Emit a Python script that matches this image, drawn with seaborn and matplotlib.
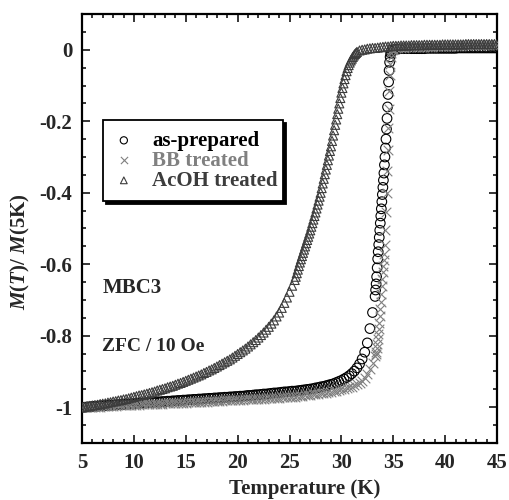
import matplotlib
matplotlib.use("Agg")
import matplotlib.pyplot as plt
import seaborn as sns
import pandas as pd

# Temperature grid (K) for the as-prepared and BB treated sweeps
temperature = [
    5.00, 5.25, 5.50, 5.75, 6.00, 6.25, 6.50, 6.75, 7.00, 7.25,
    7.50, 7.75, 8.00, 8.25, 8.50, 8.75, 9.00, 9.25, 9.50, 9.75,
    10.00, 10.25, 10.50, 10.75, 11.00, 11.25, 11.50, 11.75, 12.00, 12.25,
    12.50, 12.75, 13.00, 13.25, 13.50, 13.75, 14.00, 14.25, 14.50, 14.75,
    15.00, 15.25, 15.50, 15.75, 16.00, 16.25, 16.50, 16.75, 17.00, 17.25,
    17.50, 17.75, 18.00, 18.25, 18.50, 18.75, 19.00, 19.25, 19.50, 19.75,
    20.00, 20.25, 20.50, 20.75, 21.00, 21.25, 21.50, 21.75, 22.00, 22.25,
    22.50, 22.75, 23.00, 23.25, 23.50, 23.75, 24.00, 24.25, 24.50, 24.75,
    25.00, 25.25, 25.50, 25.75, 26.00, 26.25, 26.50, 26.75, 27.00, 27.25,
    27.50, 27.75, 28.00, 28.25, 28.50, 28.75, 29.00, 29.25, 29.50, 29.75,
    30.00, 30.25, 30.50, 30.75, 31.00, 31.25, 31.50, 31.75, 32.00, 32.25,
    32.50, 32.75, 33.00, 33.25,
    33.30, 33.35, 33.40, 33.45, 33.50, 33.55, 33.60, 33.65, 33.70, 33.75,
    33.80, 33.85, 33.90, 33.95, 34.00, 34.05, 34.10, 34.15, 34.20, 34.25,
    34.30, 34.35, 34.40, 34.45, 34.50, 34.55, 34.60, 34.65, 34.70, 34.75,
    34.80, 34.85, 34.90,
    35.00, 35.25, 35.50, 35.75, 36.00,
    36.25, 36.50, 36.75, 37.00, 37.25, 37.50, 37.75, 38.00,
    38.25, 38.50, 38.75, 39.00, 39.25, 39.50, 39.75, 40.00, 40.25, 40.50, 40.75, 41.00,
    41.25, 41.50, 41.75, 42.00, 42.25, 42.50, 42.75, 43.00,
    43.25, 43.50, 43.75, 44.00, 44.25, 44.50, 44.75, 45.00,
]

# Temperature grid (K) for the AcOH treated sweep (finer through its transition)
temperature_acoh = [
    5.00, 5.25, 5.50, 5.75, 6.00, 6.25, 6.50, 6.75, 7.00, 7.25,
    7.50, 7.75, 8.00, 8.25, 8.50, 8.75, 9.00, 9.25, 9.50, 9.75,
    10.00, 10.25, 10.50, 10.75, 11.00, 11.25, 11.50, 11.75, 12.00, 12.25,
    12.50, 12.75, 13.00, 13.25, 13.50, 13.75, 14.00, 14.25, 14.50, 14.75,
    15.00, 15.25, 15.50, 15.75, 16.00, 16.25, 16.50, 16.75, 17.00, 17.25,
    17.50, 17.75, 18.00, 18.25, 18.50, 18.75, 19.00, 19.25, 19.50, 19.75,
    20.00, 20.25, 20.50, 20.75, 21.00, 21.25, 21.50, 21.75, 22.00, 22.25,
    22.50, 22.75, 23.00, 23.25, 23.50, 23.75, 24.00, 24.25, 24.50, 24.75,
    25.00, 25.25,
    25.5, 25.6, 25.7, 25.8, 25.9, 26.0, 26.1, 26.2, 26.3, 26.4,
    26.5, 26.6, 26.7, 26.8, 26.9, 27.0, 27.1, 27.2, 27.3, 27.4,
    27.5, 27.6, 27.7, 27.8, 27.9, 28.0, 28.1, 28.2, 28.3, 28.4,
    28.5, 28.6, 28.7, 28.8, 28.9, 29.0, 29.1, 29.2, 29.3, 29.4,
    29.5, 29.6, 29.7, 29.8, 29.9, 30.0, 30.1, 30.2, 30.3, 30.4,
    30.5, 30.6, 30.7, 30.8, 30.9, 31.0, 31.1, 31.2, 31.3, 31.4,
    31.5,
    31.75, 32.00, 32.25, 32.50, 32.75, 33.00, 33.25, 33.50, 33.75, 34.00,
    34.25, 34.50, 34.75,
    35.00, 35.25, 35.50, 35.75, 36.00,
    36.25, 36.50, 36.75, 37.00, 37.25, 37.50, 37.75, 38.00,
    38.25, 38.50, 38.75, 39.00, 39.25, 39.50, 39.75, 40.00, 40.25, 40.50, 40.75, 41.00,
    41.25, 41.50, 41.75, 42.00, 42.25, 42.50, 42.75, 43.00,
    43.25, 43.50, 43.75, 44.00, 44.25, 44.50, 44.75, 45.00,
]

# Normalised magnetisation M(T)/M(5K), as-prepared sample
m_as_prepared = [
    -1.000, -1.000, -0.999, -0.999, -0.998, -0.997, -0.997, -0.996, -0.996, -0.995,
    -0.995, -0.994, -0.994, -0.993, -0.993, -0.992, -0.992, -0.991, -0.991, -0.990,
    -0.990, -0.989, -0.989, -0.988, -0.988, -0.987, -0.987, -0.986, -0.986, -0.985,
    -0.985, -0.984, -0.984, -0.983, -0.983, -0.982, -0.982, -0.981, -0.981, -0.980,
    -0.980, -0.979, -0.979, -0.978, -0.978, -0.977, -0.977, -0.976, -0.976, -0.975,
    -0.975, -0.974, -0.974, -0.973, -0.973, -0.972, -0.972, -0.971, -0.971, -0.970,
    -0.970, -0.969, -0.969, -0.968, -0.967, -0.967, -0.966, -0.965, -0.965, -0.964,
    -0.963, -0.963, -0.962, -0.961, -0.960, -0.960, -0.959, -0.958, -0.957, -0.957,
    -0.956, -0.955, -0.955, -0.954, -0.953, -0.952, -0.951, -0.950, -0.949, -0.948,
    -0.946, -0.945, -0.943, -0.942, -0.940, -0.938, -0.936, -0.934, -0.931, -0.928,
    -0.925, -0.921, -0.917, -0.912, -0.906, -0.899, -0.890, -0.879, -0.865, -0.846,
    -0.820, -0.780, -0.735, -0.690,
    -0.672, -0.655, -0.635, -0.610, -0.585, -0.565, -0.545, -0.525, -0.505, -0.485,
    -0.465, -0.445, -0.425, -0.405, -0.385, -0.365, -0.345, -0.322, -0.300, -0.275,
    -0.250, -0.222, -0.192, -0.160, -0.125, -0.090, -0.058, -0.035, -0.020, -0.010,
    -0.005, -0.002, 0.000,
    0.001, 0.002, 0.002, 0.003, 0.003,
    0.003, 0.003, 0.003, 0.003, 0.003, 0.003, 0.003, 0.003,
    0.004, 0.004, 0.004, 0.004, 0.004, 0.004, 0.004, 0.004, 0.004, 0.004, 0.004, 0.004,
    0.005, 0.005, 0.005, 0.005, 0.005, 0.005, 0.005, 0.005,
    0.005, 0.005, 0.005, 0.005, 0.005, 0.005, 0.005, 0.005,
]

# Normalised magnetisation, BB treated sample
m_bb_treated = [
    -1.000, -1.000, -0.999, -0.999, -0.999, -0.998, -0.998, -0.998, -0.997, -0.997,
    -0.997, -0.996, -0.996, -0.996, -0.995, -0.995, -0.995, -0.994, -0.994, -0.994,
    -0.993, -0.993, -0.993, -0.992, -0.992, -0.992, -0.991, -0.991, -0.991, -0.990,
    -0.990, -0.990, -0.989, -0.989, -0.989, -0.988, -0.988, -0.988, -0.987, -0.987,
    -0.987, -0.986, -0.986, -0.986, -0.985, -0.985, -0.985, -0.984, -0.984, -0.983,
    -0.983, -0.983, -0.982, -0.982, -0.982, -0.981, -0.981, -0.981, -0.980, -0.980,
    -0.980, -0.979, -0.979, -0.978, -0.978, -0.978, -0.977, -0.977, -0.976, -0.976,
    -0.976, -0.975, -0.975, -0.974, -0.974, -0.973, -0.973, -0.972, -0.972, -0.971,
    -0.971, -0.970, -0.970, -0.969, -0.968, -0.968, -0.967, -0.966, -0.965, -0.964,
    -0.963, -0.962, -0.961, -0.960, -0.959, -0.958, -0.957, -0.955, -0.954, -0.952,
    -0.950, -0.948, -0.946, -0.944, -0.942, -0.939, -0.936, -0.932, -0.926, -0.918,
    -0.907, -0.893, -0.876, -0.858,
    -0.852, -0.845, -0.835, -0.823, -0.810, -0.796, -0.780, -0.763, -0.745, -0.725,
    -0.705, -0.683, -0.660, -0.640, -0.622, -0.605, -0.588, -0.570, -0.545, -0.505,
    -0.455, -0.400, -0.340, -0.280, -0.220, -0.165, -0.115, -0.072, -0.040, -0.020,
    -0.008, -0.002, 0.001,
    0.003, 0.004, 0.005, 0.006, 0.006,
    0.007, 0.007, 0.007, 0.008, 0.008, 0.008, 0.008, 0.009,
    0.009, 0.009, 0.009, 0.010, 0.010, 0.010, 0.010, 0.010, 0.011, 0.011, 0.011, 0.011,
    0.011, 0.011, 0.012, 0.012, 0.012, 0.012, 0.012, 0.012,
    0.012, 0.012, 0.012, 0.012, 0.012, 0.012, 0.012, 0.012,
]

# Normalised magnetisation, AcOH treated sample (on temperature_acoh)
m_acoh_treated = [
    -1.000, -0.999, -0.998, -0.996, -0.995, -0.994, -0.993, -0.991, -0.990, -0.989,
    -0.987, -0.986, -0.984, -0.983, -0.981, -0.980, -0.978, -0.977, -0.975, -0.973,
    -0.971, -0.969, -0.967, -0.966, -0.964, -0.962, -0.960, -0.958, -0.956, -0.953,
    -0.951, -0.949, -0.947, -0.944, -0.942, -0.940, -0.937, -0.934, -0.932, -0.929,
    -0.926, -0.923, -0.920, -0.917, -0.914, -0.911, -0.908, -0.904, -0.901, -0.897,
    -0.894, -0.890, -0.886, -0.882, -0.878, -0.874, -0.870, -0.866, -0.861, -0.856,
    -0.851, -0.846, -0.841, -0.836, -0.830, -0.824, -0.818, -0.812, -0.805, -0.798,
    -0.791, -0.783, -0.775, -0.766, -0.757, -0.746, -0.735, -0.722, -0.708, -0.693,
    -0.677, -0.660,
    -0.644, -0.635, -0.625, -0.615, -0.605, -0.595, -0.586, -0.577, -0.568, -0.559,
    -0.550, -0.541, -0.532, -0.523, -0.514, -0.505, -0.495, -0.485, -0.475, -0.465,
    -0.455, -0.444, -0.433, -0.422, -0.411, -0.400, -0.387, -0.374, -0.361, -0.348,
    -0.335, -0.322, -0.309, -0.296, -0.283, -0.270, -0.255, -0.240, -0.225, -0.210,
    -0.195, -0.180, -0.165, -0.150, -0.135, -0.120, -0.107, -0.094, -0.082, -0.071,
    -0.060, -0.051, -0.043, -0.036, -0.030, -0.025, -0.020, -0.016, -0.012, -0.009,
    -0.006,
    -0.002, 0.000, 0.001, 0.003, 0.004, 0.005, 0.005, 0.006, 0.007, 0.008,
    0.009, 0.009, 0.010,
    0.011, 0.011, 0.011, 0.012, 0.012,
    0.012, 0.012, 0.013, 0.013, 0.013, 0.013, 0.013, 0.014,
    0.014, 0.014, 0.014, 0.014, 0.014, 0.014, 0.015, 0.015, 0.015, 0.015, 0.015, 0.015,
    0.015, 0.015, 0.015, 0.016, 0.016, 0.016, 0.016, 0.016,
    0.016, 0.016, 0.016, 0.016, 0.016, 0.016, 0.016, 0.016,
]

series_labels = ["as-prepared", "BB treated", "AcOH treated"]
series_colors = ["black", "#808080", "#3c3c3c"]
x_ticks = [5, 10, 15, 20, 25, 30, 35, 40, 45]
y_ticks = [0, -0.2, -0.4, -0.6, -0.8, -1]
y_tick_labels = ["0", "-0.2", "-0.4", "-0.6", "-0.8", "-1"]

sns.set_style("ticks")
plt.rcParams["font.family"] = ["Liberation Serif", "DejaVu Serif"]
plt.rcParams["font.weight"] = "bold"
plt.rcParams["axes.labelweight"] = "bold"
plt.rcParams["mathtext.fontset"] = "custom"
plt.rcParams["mathtext.it"] = "Liberation Serif:italic:bold"
plt.rcParams["mathtext.rm"] = "Liberation Serif:bold"

df = pd.DataFrame({"T": temperature, "as": m_as_prepared, "bb": m_bb_treated})
df_acoh = pd.DataFrame({"T": temperature_acoh, "acoh": m_acoh_treated})

fig = plt.figure(figsize=(5.1, 5.0), dpi=100)
ax = fig.add_axes([82 / 510, 1 - 443 / 500, (497 - 82) / 510, (443 - 14) / 500])

sns.scatterplot(data=df, x="T", y="as", marker="o", s=48, facecolor="none",
                edgecolor=series_colors[0], linewidth=0.8, ax=ax,
                label=series_labels[0], zorder=3)
sns.scatterplot(data=df, x="T", y="bb", marker="x", s=48, color=series_colors[1],
                linewidth=0.8, ax=ax, label=series_labels[1], zorder=4)
sns.scatterplot(data=df_acoh, x="T", y="acoh", marker="^", s=42, facecolor="none",
                edgecolor=series_colors[2], linewidth=0.8, ax=ax,
                label=series_labels[2], zorder=5)

ax.set_xlim(5, 45)
ax.set_ylim(-1.1, 0.1)
ax.set_xticks(x_ticks)
ax.set_yticks(y_ticks)
ax.set_yticklabels(y_tick_labels)
ax.set_xticks([t for t in range(5, 46) if t % 5], minor=True)
ax.set_yticks([-1.05, -0.95, -0.9, -0.85, -0.75, -0.7, -0.65, -0.55, -0.5, -0.45,
               -0.35, -0.3, -0.25, -0.15, -0.1, -0.05, 0.05], minor=True)

ax.tick_params(which="both", direction="in", top=True, right=True, width=1.3,
               labelsize=15, pad=7)
ax.tick_params(which="major", length=6)
ax.tick_params(which="minor", length=3)
for s in ax.spines.values():
    s.set_linewidth(1.6)
    s.set_color("black")

ax.set_xlabel("Temperature (K)", fontsize=15, labelpad=3)
ax.xaxis.set_label_coords(0.537, -0.085)
ax.set_ylabel(r"$M$($T$)/ $M$(5K)", fontsize=15)
ax.yaxis.set_label_coords(-0.12, 0.445)

ax.text(7.0, -0.667, "MBC3", fontsize=15, fontweight="bold", va="center", ha="left")
ax.text(6.9, -0.83, "ZFC / 10 Oe", fontsize=14, fontweight="bold", va="center", ha="left")

leg = ax.legend(loc="upper left", bbox_to_anchor=(0.0506, 0.552, 0.434, 0.2),
                mode="expand", borderaxespad=0,
                fancybox=False, shadow={"color": "black", "alpha": 1.0},
                frameon=True, edgecolor="black", framealpha=1, fontsize=15,
                markerscale=0.75, handletextpad=0.85, handlelength=1.0,
                borderpad=0.5, labelspacing=0.0)
leg.get_frame().set_linewidth(1.3)
for txt, col in zip(leg.get_texts(), series_colors):
    txt.set_color(col)

fig.savefig("out.png", dpi=100)
